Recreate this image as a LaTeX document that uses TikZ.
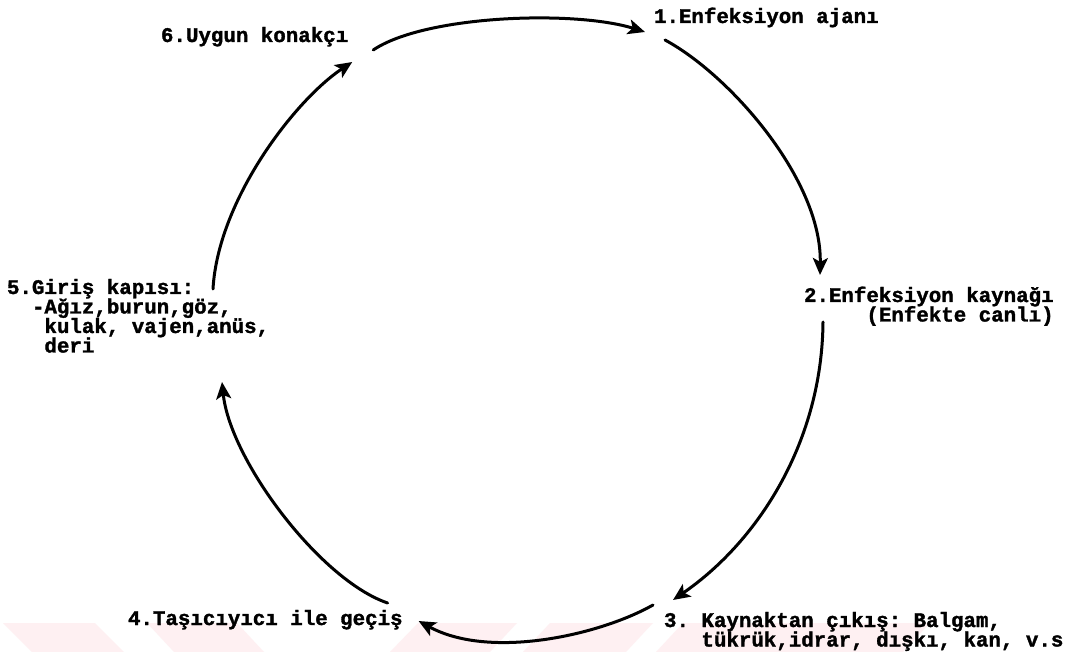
\documentclass[tikz,border=0pt]{standalone}
\usepackage{fontspec}
\setmonofont{Liberation Mono}[BoldFeatures={FakeBold=1.5}]
\usetikzlibrary{arrows.meta}
\definecolor{wm}{RGB}{254,240,242}
\newcommand\mylines[1]{\vtop{\baselineskip=19.5pt\lineskiplimit=-100pt\lineskip=0pt #1}}
\begin{document}
\begin{tikzpicture}[x=1pt,y=-1pt,
  lbl/.style={anchor=base west, inner sep=0pt, outer sep=0pt,
    font=\ttfamily\bfseries\fontsize{20.8pt}{19.5pt}\selectfont},
  arr/.style={line width=3pt, line cap=round, line join=round,
    -{Stealth[length=17pt,width=15pt,inset=4pt]}},
  wmark/.style={fill=wm, draw=none}]
\fill[white] (0,0) rectangle (1082,652);
\useasboundingbox (0,0) rectangle (1082,652);
% faint watermark band
\fill[wmark] (3,623) -- (95,623) -- (124,652) -- (32,652) -- cycle;
\fill[wmark] (147,623) -- (237,623) -- (264,652) -- (174,652) -- cycle;
\fill[wmark] (418,623) -- (517,623) -- (490,652) -- (390,652) -- cycle;
\fill[wmark] (550,623) -- (653,623) -- (626,652) -- (523,652) -- cycle;
\fill[wmark] (683,623) -- (930,623) -- (903,652) -- (656,652) -- cycle;
% labels
\node[lbl] (n1) at (654,23) {1.Enfeksiyon ajanı};
\node[lbl] (n6) at (161,42) {6.Uygun konakçı};
\node[lbl] (n2) at (804,302) {\mylines{\hbox{2.Enfeksiyon kaynağı}\hbox{\phantom{xxxxx}(Enfekte canlı)}}};
\node[lbl] (n5) at (7,294) {\mylines{\hbox{5.Giriş kapısı:}\hbox{\phantom{xx}-Ağız,burun,göz,}\hbox{\phantom{xxx}kulak, vajen,anüs,}\hbox{\phantom{xxx}deri}}};
\node[lbl] (n4) at (128,625) {4.Taşıcıyıcı ile geçiş};
\node[lbl] (n3) at (664,627) {\mylines{\hbox{3. Kaynaktan çıkış: Balgam,}\hbox{\phantom{xxx}tükrük,idrar, dışkı, kan, v.s}}};
% cycle arrows
\draw[arr] ([shift={(25,8)}]n6.base east) .. controls (425,15) and (575,10) .. ([shift={(-9,9)}]n1.base west);
\draw[arr] ([shift={(11,17)}]n1.base west) .. controls (730,75) and (822,180) .. ([shift={(16,-27)}]n2.base west);
\draw[arr] ([shift={(19,20)}]n2.base west) .. controls (822,440) and (760,540) .. ([shift={(9,-27)}]n3.base west);
\draw[arr] ([shift={(-11,-22)}]n3.base west) .. controls (600,635) and (490,660) .. ([shift={(16,-4)}]n4.base east);
\draw[arr] ([shift={(-15,-22)}]n4.base east) .. controls (320,580) and (230,460) .. ([shift={(215,88)}]n5.base west);
\draw[arr] ([shift={(206,-5)}]n5.base west) .. controls (218,200) and (295,100) .. ([shift={(4,20)}]n6.base east);
\end{tikzpicture}
\end{document}
